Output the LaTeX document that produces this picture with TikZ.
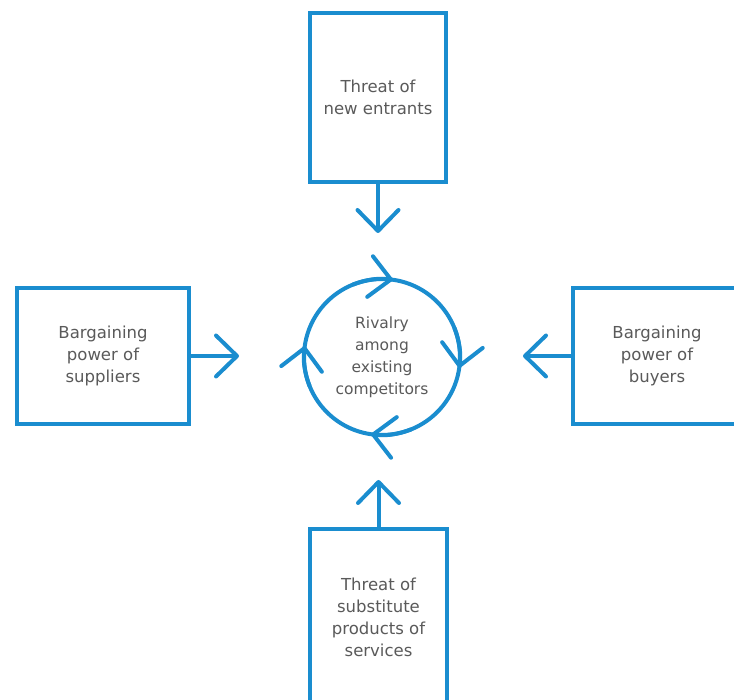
\documentclass[tikz,border=0pt]{standalone}
\usepackage{fontspec}
\setmainfont{DejaVu Sans}
\usetikzlibrary{arrows.meta,calc}
\definecolor{pblue}{HTML}{1A8DCF}
\definecolor{ptext}{HTML}{5A5A5A}
\begin{document}
\begin{tikzpicture}[x=1pt,y=-1pt,
  box/.style={draw=pblue, line width=4pt, inner sep=0pt, align=center, text=ptext,
    font=\fontsize{16.5}{22}\selectfont},
  flow/.style={draw=pblue, line width=4pt, -{Straight Barb[round,length=21pt,width=41pt]}},
]
\clip (0,0) rectangle (734,700);
\fill[white] (0,0) rectangle (734,700);
\node[box, minimum width=136pt, minimum height=169pt] (top) at (378,97.5) {Threat of\\new entrants};
\node[box, minimum width=172pt, minimum height=136pt] (left) at (103,356) {Bargaining\\power of\\suppliers};
\node[box, minimum width=168pt, minimum height=136pt] (right) at (657,356) {Bargaining\\power of\\buyers};
\node[box, minimum width=137pt, minimum height=177pt] (bottom) at (378.5,617.5) {Threat of\\substitute\\products of\\services};
\node[box, circle, minimum size=156pt, font=\fontsize{15.5}{22}\selectfont] (riv) at (382,357) {Rivalry\\among\\existing\\competitors};
\coordinate (tT) at (378,233);
\coordinate (tL) at (239,356);
\coordinate (tR) at (523,356);
\coordinate (tB) at (378.5,480);
\draw[flow] (top.south) -- (tT);
\draw[flow] (left.east) -- (tL);
\draw[flow] (right.west) -- (tR);
\draw[flow] (bottom.north) -- (tB);
\foreach \a in {8,98,188,278}
  \draw[flow] ($(riv.center)+(\a-30:78)$) arc[start angle=\a-30, end angle=\a, radius=78];
\end{tikzpicture}
\end{document}
